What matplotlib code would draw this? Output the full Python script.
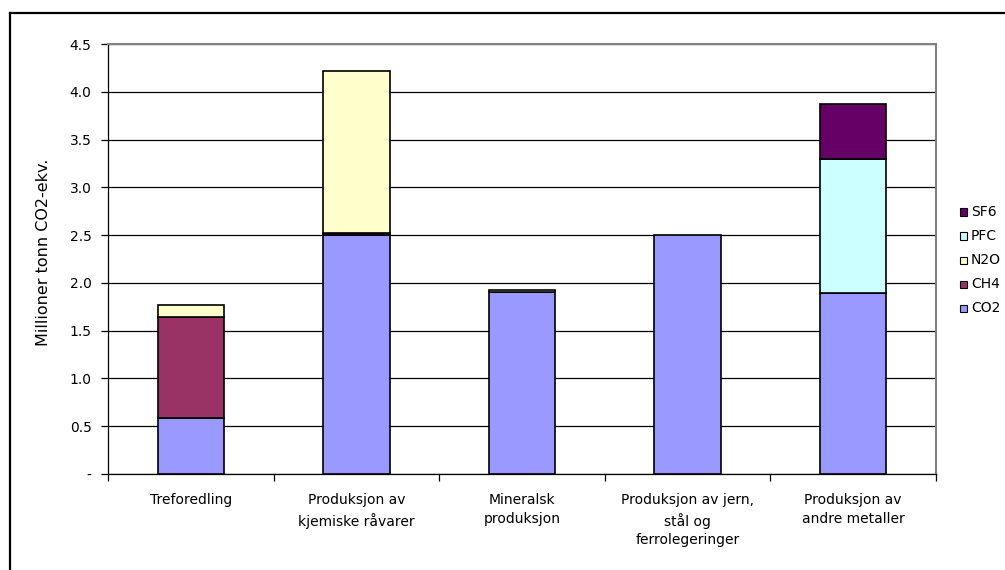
import matplotlib
matplotlib.use("Agg")
import matplotlib.pyplot as plt
from matplotlib.patches import Rectangle
from matplotlib.lines import Line2D
import numpy as np

plt.rcParams['font.family'] = ['DejaVu Sans']

categories = [
    "Treforedling",
    "Produksjon av\nkjemiske råvarer",
    "Mineralsk\nproduksjon",
    "Produksjon av jern,\nstål og\nferrolegeringer",
    "Produksjon av\nandre metaller",
]
series_names = ["CO2", "CH4", "N2O", "PFC", "SF6"]
co2 = [0.59, 2.50, 1.90, 2.50, 1.89]
ch4 = [1.05, 0.02, 0.00, 0.00, 0.00]
n2o = [0.13, 1.70, 0.03, 0.00, 0.00]
pfc = [0.00, 0.00, 0.00, 0.00, 1.41]
sf6 = [0.00, 0.00, 0.00, 0.00, 0.57]
yticks = [0.0, 0.5, 1.0, 1.5, 2.0, 2.5, 3.0, 3.5, 4.0, 4.5]
ytick_labels = ["-", "0.5", "1.0", "1.5", "2.0", "2.5", "3.0", "3.5", "4.0", "4.5"]

colors = {"CO2": "#9999FF", "CH4": "#993366", "N2O": "#FFFFCC",
          "PFC": "#CCFFFF", "SF6": "#660066"}
values = {"CO2": co2, "CH4": ch4, "N2O": n2o, "PFC": pfc, "SF6": sf6}

W, H = 1005, 570
fig = plt.figure(figsize=(W / 100, H / 100), dpi=100)
fig.patch.set_facecolor("white")

# Plot area in pixel units
L, R, T, B = 108.3, 935.8, 44, 474
ax = fig.add_axes([L / W, 1 - B / H, (R - L) / W, (B - T) / H])

x = np.arange(len(categories))
bottom = np.zeros(len(categories))
for name in series_names:
    v = np.array(values[name])
    mask = v > 0
    ax.bar(x[mask], v[mask], width=0.4, bottom=bottom[mask], color=colors[name],
           edgecolor="black", linewidth=1.2, zorder=3)
    bottom += v

ax.set_xlim(-0.5, len(categories) - 0.5)
ax.set_ylim(0, 4.5)
ax.set_yticks(yticks)
ax.set_yticklabels(ytick_labels, fontsize=10)
ax.yaxis.grid(True, color="black", linewidth=0.9, zorder=0)
ax.set_axisbelow(True)

ax.set_xticks(x)
ax.set_xticklabels(categories, fontsize=10, linespacing=1.4, va="top")
ax.set_xticks(np.arange(-0.5, len(categories), 1.0), minor=True)
ax.tick_params(axis="x", which="major", length=0, pad=14)
ax.tick_params(axis="x", which="minor", length=5, width=0.9, direction="out")
ax.tick_params(axis="y", length=5, width=0.9, direction="out", pad=7)

for side in ["top", "right"]:
    ax.spines[side].set_color("#808080")
    ax.spines[side].set_linewidth(1.5)
for side in ["left", "bottom"]:
    ax.spines[side].set_color("black")
    ax.spines[side].set_linewidth(0.9)

fig.text(44 / W, 1 - 252 / H, "Millioner tonn CO2-ekv.", rotation=90,
         ha="center", va="center", fontsize=11.5)

# Legend, top entry first
legend_order = ["SF6", "PFC", "N2O", "CH4", "CO2"]
for i, name in enumerate(legend_order):
    yc = 212 + 24 * i
    fig.add_artist(Rectangle((960 / W, 1 - (yc + 3.5) / H), 7 / W, 7 / H,
                             transform=fig.transFigure, facecolor=colors[name],
                             edgecolor="black", linewidth=0.8))
    fig.text(971 / W, 1 - yc / H, name, ha="left", va="center", fontsize=10)

# Outer chart-area frame
fig.add_artist(Line2D([10 / W, 10 / W], [1 - 13 / H, 0], transform=fig.transFigure,
                      color="black", linewidth=1.6))
fig.add_artist(Line2D([10 / W, 1], [1 - 13 / H, 1 - 13 / H], transform=fig.transFigure,
                      color="black", linewidth=1.6))

fig.savefig("out.png", dpi=100, facecolor="white")
